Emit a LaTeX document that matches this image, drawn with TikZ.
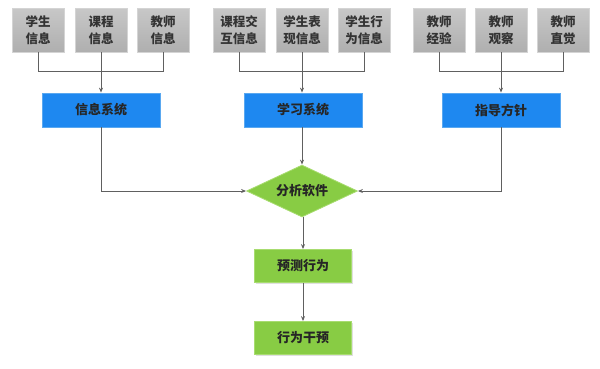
\documentclass[tikz,border=0pt]{standalone}
\usepackage{fontspec}
\setmainfont{Noto Sans CJK SC}
\newfontfamily\cjk{Noto Sans CJK SC}
\usetikzlibrary{shapes.geometric,arrows.meta,shadows}
\definecolor{grayfill}{HTML}{BEBEBE}
\definecolor{grayedge}{HTML}{D4D4D4}
\definecolor{bluefill}{HTML}{1E88F0}
\definecolor{blueedge}{HTML}{5AA8F0}
\definecolor{greenfill}{HTML}{88CC44}
\definecolor{greenedge}{HTML}{A8DC70}
\definecolor{linec}{HTML}{606060}
\begin{document}
\begin{tikzpicture}[x=1pt,y=-1pt,
  src/.style={draw=grayedge,line width=0.8pt,top color=grayfill!85!white,bottom color=grayfill!92!black,minimum width=52pt,minimum height=44pt,inner sep=0pt,align=center,font=\cjk\bfseries\fontsize{12.5}{17}\selectfont,text=black!80,drop shadow={opacity=0.25,shadow xshift=1pt,shadow yshift=-1pt}},
  sys/.style={draw=blueedge,line width=0.8pt,fill=bluefill,minimum width=118pt,minimum height=34pt,inner sep=0pt,font=\cjk\bfseries\fontsize{13}{16}\selectfont,text=black!85,drop shadow={opacity=0.25,shadow xshift=1pt,shadow yshift=-1pt}},
  gbox/.style={draw=greenedge,line width=0.8pt,fill=greenfill,minimum width=97pt,minimum height=33pt,inner sep=0pt,font=\cjk\bfseries\fontsize{13}{16}\selectfont,text=black!85,drop shadow={opacity=0.25,shadow xshift=1pt,shadow yshift=-1pt}},
  dia/.style={diamond,draw=greenedge,line width=0.8pt,fill=greenfill,minimum width=111pt,minimum height=52pt,inner sep=0pt,aspect=2.13,font=\cjk\bfseries\fontsize{13}{16}\selectfont,text=black!85},
  conn/.style={draw=linec,line width=1pt},
  arr/.style={conn,-{Stealth[length=5pt,width=4pt]}}
]
\useasboundingbox (0,0) rectangle (600,368);
% group 1
\node[src] (a1) at (38,30) {学生\\信息};
\node[src] (a2) at (101,30) {课程\\信息};
\node[src] (a3) at (163,30) {教师\\信息};
\node[sys] (s1) at (101,110) {信息系统};
% group 2
\node[src] (b1) at (239,30) {课程交\\互信息};
\node[src] (b2) at (302,30) {学生表\\现信息};
\node[src] (b3) at (364,30) {学生行\\为信息};
\node[sys] (s2) at (303,110) {学习系统};
% group 3
\node[src] (c1) at (439,30) {教师\\经验};
\node[src] (c2) at (501,30) {教师\\观察};
\node[src] (c3) at (563,30) {教师\\直觉};
\node[sys] (s3) at (501,110) {指导方针};
% center
\node[dia] (d) at (302,191) {分析软件};
\node[gbox] (p) at (303,266) {预测行为};
\node[gbox] (q) at (303,338) {行为干预};
% connectors
\coordinate (j1) at (101,71);
\coordinate (j2) at (302,71);
\coordinate (j3) at (501,71);
\draw[conn] (a1.south) |- (j1);
\draw[conn] (a3.south) |- (j1);
\draw[arr] (a2.south) -- (s1.north);
\draw[conn] (b1.south) |- (j2);
\draw[conn] (b3.south) |- (j2);
\draw[arr] (b2.south) -- (s2.north -| b2);
\draw[conn] (c1.south) |- (j3);
\draw[conn] (c3.south) |- (j3);
\draw[arr] (c2.south) -- (s3.north);
\draw[arr] (s1.south) |- (d.west);
\draw[arr] (s3.south) |- (d.east);
\draw[arr] (s2.south -| d) -- (d.north);
\draw[arr] (d.south -| p) -- (p.north);
\draw[arr] (p.south) -- (q.north);
\end{tikzpicture}
\end{document}
